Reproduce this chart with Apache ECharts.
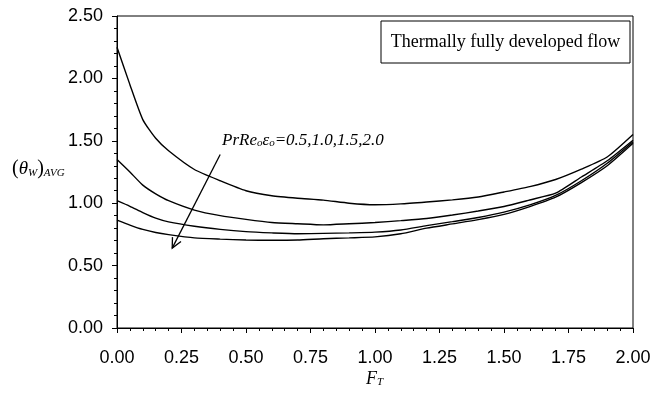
<!DOCTYPE html>
<html>
<head>
<meta charset="utf-8">
<script src="https://cdn.jsdelivr.net/npm/echarts@6/dist/echarts.min.js"></script>
<style>
  html, body { margin: 0; padding: 0; background: #fff; }
  #main { width: 667px; height: 393px; }
</style>
</head>
<body>
<div id="main"></div>
<script>
// F_T positions where the curves were read
const ftValues = [0, 0.05, 0.1, 0.15, 0.2, 0.3, 0.4, 0.5, 0.6, 0.7, 0.8, 0.9, 1.0,
  1.1, 1.2, 1.3, 1.4, 1.5, 1.6, 1.7, 1.8, 1.9, 2.0];

// (theta_W)_AVG for PrRe_o eps_o = 2.0, 1.5, 1.0, 0.5
const theta20 = [2.25, 1.95, 1.67, 1.52, 1.42, 1.27, 1.18, 1.10, 1.06, 1.04, 1.025, 1.0, 0.988,
  0.995, 1.01, 1.027, 1.05, 1.09, 1.133, 1.19, 1.273, 1.37, 1.55];
const theta15 = [1.35, 1.25, 1.145, 1.075, 1.02, 0.945, 0.90, 0.87, 0.845, 0.835, 0.826, 0.835, 0.845,
  0.86, 0.877, 0.905, 0.937, 0.974, 1.026, 1.08, 1.21, 1.34, 1.505];
const theta10 = [1.02, 0.975, 0.925, 0.88, 0.85, 0.815, 0.79, 0.772, 0.762, 0.755, 0.758, 0.762, 0.768,
  0.785, 0.82, 0.852, 0.885, 0.928, 0.986, 1.062, 1.18, 1.32, 1.493];
const theta05 = [0.865, 0.825, 0.79, 0.765, 0.748, 0.722, 0.712, 0.705, 0.703, 0.705, 0.715, 0.722, 0.73,
  0.755, 0.80, 0.834, 0.868, 0.91, 0.973, 1.048, 1.165, 1.30, 1.48];

// arrow of the annotation, in data units: [from, to]
const arrowFrom = [0.40, 1.39];
const arrowTo = [0.214, 0.64];

const chart = echarts.init(document.getElementById('main'));

function pairs(ys) {
  return ftValues.map((x, i) => [x, ys[i]]);
}

const serif = '"Liberation Serif", "Times New Roman", serif';
const sans = '"Liberation Sans", Arial, sans-serif';

const axisCommon = {
  axisLine: { show: true, lineStyle: { color: '#000', width: 1 } },
  axisTick: { show: true, inside: false, length: 5, lineStyle: { color: '#000' } },
  minorTick: { show: true, splitNumber: 5, length: 3, lineStyle: { color: '#000' } },
  splitLine: { show: false },
  axisLabel: { color: '#000', fontFamily: sans, fontSize: 18, formatter: v => v.toFixed(2) }
};

const option = {
  animation: false,
  backgroundColor: '#fff',
  grid: { left: 117, right: 34, top: 16, bottom: 65, show: true, borderColor: '#000', borderWidth: 1 },
  xAxis: Object.assign({}, axisCommon, {
    type: 'value', min: 0, max: 2, interval: 0.25,
    axisLabel: Object.assign({}, axisCommon.axisLabel, { margin: 21 })
  }),
  yAxis: Object.assign({}, axisCommon, {
    type: 'value', min: 0, max: 2.5, interval: 0.5,
    axisLabel: Object.assign({}, axisCommon.axisLabel, { margin: 14 })
  }),
  series: [theta20, theta15, theta10, theta05].map(ys => ({
    type: 'line',
    data: pairs(ys),
    symbol: 'none',
    smooth: 0.2,
    lineStyle: { color: '#000', width: 1.4 }
  }))
};

chart.setOption(option);

// annotation, legend box, axis titles and arrow
const p0 = chart.convertToPixel('grid', arrowFrom);
const p1 = chart.convertToPixel('grid', arrowTo);
const ang = Math.atan2(p1[1] - p0[1], p1[0] - p0[0]);
const hl = 11, ha = 0.45;
const head = [
  [p1[0] - hl * Math.cos(ang - ha), p1[1] - hl * Math.sin(ang - ha)],
  [p1[0], p1[1]],
  [p1[0] - hl * Math.cos(ang + ha), p1[1] - hl * Math.sin(ang + ha)]
];

chart.setOption({
  graphic: [
    { type: 'line', shape: { x1: p0[0], y1: p0[1], x2: p1[0], y2: p1[1] },
      style: { stroke: '#000', lineWidth: 1.3 } },
    { type: 'polyline', shape: { points: head }, style: { stroke: '#000', lineWidth: 1.3, fill: null } },
    { type: 'rect', shape: { x: 381, y: 21, width: 249, height: 42 },
      style: { fill: '#fff', stroke: '#000', lineWidth: 1 } },
    { type: 'text', x: 505.5, y: 42,
      style: { text: 'Thermally fully developed flow', font: '18px ' + serif, fill: '#000',
        align: 'center', verticalAlign: 'middle' } },
    { type: 'text', x: 222, y: 149,
      style: {
        text: '{i|PrRe}{s|o}{i|ε}{s|o}{i|=0.5,1.0,1.5,2.0}',
        verticalAlign: 'bottom',
        rich: {
          i: { font: 'italic 17px ' + serif, fill: '#000' },
          s: { font: 'italic 11px ' + serif, fill: '#000', padding: [6, 0, 0, 0] }
        }
      } },
    { type: 'text', x: 12, y: 179,
      style: {
        text: '{n|(}{i|θ}{s|W}{n|)}{s|AVG}',
        verticalAlign: 'bottom',
        rich: {
          n: { font: '20px ' + serif, fill: '#000' },
          i: { font: 'italic 19px ' + serif, fill: '#000' },
          s: { font: 'italic 11px ' + serif, fill: '#000', padding: [8, 0, 0, 0] }
        }
      } },
    { type: 'text', x: 366, y: 388,
      style: {
        text: '{i|F}{s|T}',
        verticalAlign: 'bottom',
        rich: {
          i: { font: 'italic 18px ' + serif, fill: '#000' },
          s: { font: 'italic 11px ' + serif, fill: '#000', padding: [6, 0, 0, 0] }
        }
      } }
  ]
});
</script>
</body>
</html>
